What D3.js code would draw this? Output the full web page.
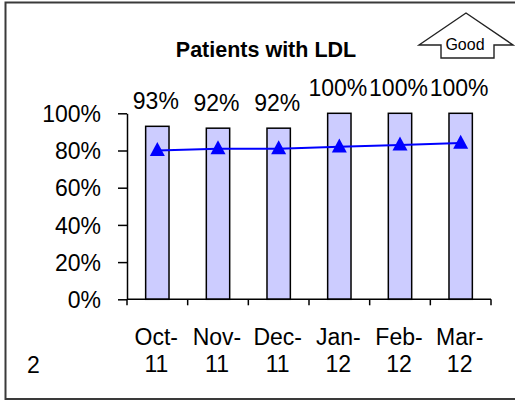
<!DOCTYPE html>
<html>
<head>
<meta charset="utf-8">
<script src="https://cdn.jsdelivr.net/npm/d3@7"></script>
<style>
  html, body { margin: 0; padding: 0; background: #fff; }
  svg { display: block; }
  text { font-family: Arial, "Liberation Sans", sans-serif; fill: #000; }
</style>
</head>
<body>
<svg id="chart" width="515" height="402"></svg>
<script>
const categories = ["Oct-11", "Nov-11", "Dec-11", "Jan-12", "Feb-12", "Mar-12"];
const barValues = [0.93, 0.92, 0.92, 1.00, 1.00, 1.00];
const lineValues = [0.80, 0.81, 0.81, 0.82, 0.83, 0.84];
const yTicks = [0, 0.2, 0.4, 0.6, 0.8, 1.0];
const titleText = "Patients with LDL";
const pageNumber = "2";

const svg = d3.select("#chart");

// frame
svg.append("path")
  .attr("d", "M520,2.5 H5.5 V399 H520")
  .attr("fill", "none").attr("stroke", "#3a3a3a").attr("stroke-width", 2);

const x = d3.scaleBand().domain(categories).range([127, 491]).padding(0);
const y = d3.scaleLinear().domain([0, 1]).range([299.3, 113.3]);

const barW = x.bandwidth() * 0.385;

// bars
svg.append("g").selectAll("rect").data(categories).join("rect")
  .attr("x", d => x(d) + x.bandwidth() / 2 - barW / 2)
  .attr("y", (d, i) => y(barValues[i]))
  .attr("width", barW)
  .attr("height", (d, i) => y(0) - y(barValues[i]))
  .attr("fill", "#ccccff")
  .attr("stroke", "#000")
  .attr("stroke-width", 1.5);

// y axis
const yAxis = svg.append("g").attr("transform", `translate(${x.range()[0]},0)`)
  .call(d3.axisLeft(y).tickValues(yTicks).tickFormat(d3.format(".0%")).tickSize(9).tickSizeOuter(0).tickPadding(17));
yAxis.select(".domain").attr("stroke", "#000").attr("stroke-width", 1.5);
yAxis.selectAll(".tick line").attr("stroke", "#000").attr("stroke-width", 1.5);
yAxis.selectAll(".tick text").attr("font-size", "23px").attr("font-family", "Arial, 'Liberation Sans', sans-serif").attr("dy", "0.36em");

// x axis (ticks at category boundaries)
const xg = svg.append("g");
xg.append("line")
  .attr("x1", x.range()[0]).attr("x2", x.range()[1])
  .attr("y1", y(0)).attr("y2", y(0))
  .attr("stroke", "#000").attr("stroke-width", 1.5);
const boundaries = categories.map(c => x(c)).concat([x.range()[1]]);
xg.selectAll("line.tk").data(boundaries).join("line").attr("class", "tk")
  .attr("x1", d => d).attr("x2", d => d)
  .attr("y1", y(0)).attr("y2", y(0) + 6)
  .attr("stroke", "#000").attr("stroke-width", 1.5);
const xl = xg.selectAll("text.xl").data(categories).join("text").attr("class", "xl")
  .attr("text-anchor", "middle")
  .attr("font-size", "23px");
xl.append("tspan")
  .attr("x", d => x(d) + x.bandwidth() / 2 - 1)
  .attr("y", 345)
  .text(d => d.split("-")[0] + "-");
xl.append("tspan")
  .attr("x", d => x(d) + x.bandwidth() / 2 - 1)
  .attr("y", 371.5)
  .text(d => d.split("-")[1]);

// data labels
svg.append("g").selectAll("text").data(categories).join("text")
  .attr("x", d => x(d) + x.bandwidth() / 2 - 1.5)
  .attr("y", (d, i) => y(barValues[i]) - 17.5)
  .attr("text-anchor", "middle")
  .attr("font-size", "23px")
  .text((d, i) => d3.format(".0%")(barValues[i]));

// line
const line = d3.line()
  .x((d, i) => x(categories[i]) + x.bandwidth() / 2)
  .y(d => y(d));
svg.append("path").datum(lineValues)
  .attr("d", line)
  .attr("fill", "none").attr("stroke", "#0000ff").attr("stroke-width", 2);
const triW = 15, triH = 14;
const triPath = `M0,${-triH * 0.6}L${triW / 2},${triH * 0.4}L${-triW / 2},${triH * 0.4}Z`;
svg.append("g").selectAll("path").data(lineValues).join("path")
  .attr("transform", (d, i) => `translate(${x(categories[i]) + x.bandwidth() / 2},${y(d)})`)
  .attr("d", triPath)
  .attr("fill", "#0000ff");

// title
svg.append("text")
  .attr("x", 266).attr("y", 57)
  .attr("text-anchor", "middle")
  .attr("font-size", "21.5px").attr("font-weight", "bold")
  .text(titleText);

// Good arrow
svg.append("polygon")
  .attr("points", "419,45 466,13 513,45 494,45 494,58 441,58 441,45")
  .attr("fill", "#fff").attr("stroke", "#222").attr("stroke-width", 1.4);
svg.append("text")
  .attr("x", 465).attr("y", 49.5)
  .attr("text-anchor", "middle")
  .attr("font-size", "16px")
  .text("Good");

// page number
svg.append("text")
  .attr("x", 27).attr("y", 373)
  .attr("font-size", "23px")
  .text(pageNumber);
</script>
</body>
</html>
